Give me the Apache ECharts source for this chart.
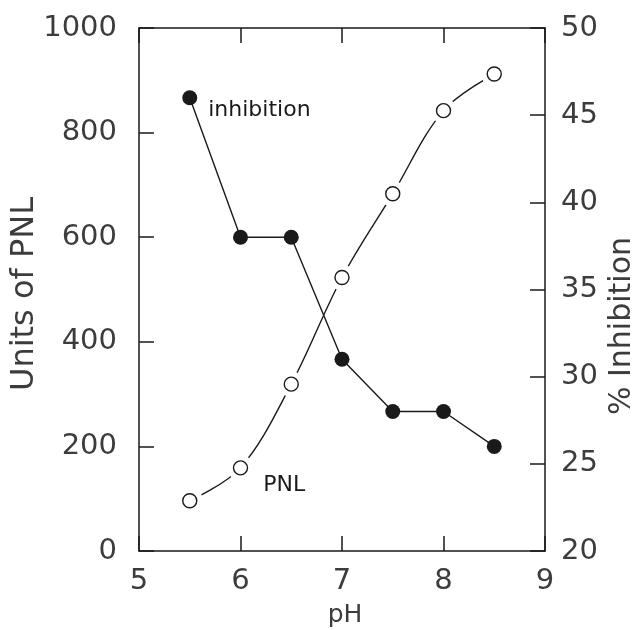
<!DOCTYPE html>
<html>
<head>
<meta charset="utf-8">
<script src="https://cdn.jsdelivr.net/npm/echarts@6/dist/echarts.min.js"></script>
<style>html,body{margin:0;padding:0;background:#fff}#c{width:638px;height:630px}</style>
</head>
<body>
<div id="c"></div>
<script>
const pH = [5.5, 6.0, 6.5, 7.0, 7.5, 8.0, 8.5];
const pnl = [96, 159, 319, 523, 683, 842, 912];
const inhibition = [46.0, 38.0, 38.0, 31.0, 28.0, 28.0, 26.0];
const xTicks = [5, 6, 7, 8, 9];
const leftTicks = [0, 200, 400, 600, 800, 1000];
const rightTicks = [20, 25, 30, 35, 40, 45, 50];

const FONT = 'DejaVu Sans';
const TXT = '#3c3c3c';
const INK = '#1a1a1a';

const pnlData = pH.map((x, i) => [x, pnl[i]]);
const inhData = pH.map((x, i) => [x, inhibition[i]]);

const chart = echarts.init(document.getElementById('c'), null, {renderer: 'canvas'});
const tickStyle = {inside: true, length: 15, lineStyle: {color: INK, width: 1.5}};
const lineSt = {show: true, lineStyle: {color: INK, width: 1.5}};
const fmt = v => String(v);
chart.setOption({
  backgroundColor: '#fff',
  animation: false,
  grid: {left: 139, right: 93, top: 28, bottom: 79, containLabel: false},
  xAxis: [
    {type: 'value', min: xTicks[0], max: xTicks[xTicks.length-1], interval: 1, position: 'bottom',
     axisLine: lineSt, splitLine: {show: false}, axisTick: tickStyle,
     axisLabel: {color: TXT, fontFamily: FONT, fontSize: 29, margin: 16, formatter: fmt}},
    {type: 'value', min: xTicks[0], max: xTicks[xTicks.length-1], interval: 1, position: 'top',
     axisLine: lineSt, splitLine: {show: false}, axisTick: tickStyle,
     axisLabel: {show: false}}
  ],
  yAxis: [
    {type: 'value', min: leftTicks[0], max: leftTicks[leftTicks.length-1], interval: 200, position: 'left',
     axisLine: lineSt, splitLine: {show: false}, axisTick: Object.assign({show: true}, tickStyle),
     axisLabel: {color: TXT, fontFamily: FONT, fontSize: 29, margin: 22, formatter: fmt}},
    {type: 'value', min: rightTicks[0], max: rightTicks[rightTicks.length-1], interval: 5, position: 'right',
     axisLine: lineSt, splitLine: {show: false}, axisTick: Object.assign({show: true}, tickStyle),
     axisLabel: {color: TXT, fontFamily: FONT, fontSize: 29, margin: 16, formatter: fmt}}
  ],
  graphic: [
    {type: 'text', x: 345, y: 615,
     style: {text: 'pH', font: '25px "DejaVu Sans"', fill: TXT, align: 'center', verticalAlign: 'middle'}},
    {type: 'text', rotation: Math.PI/2, x: 25, y: 294,
     style: {text: 'Units of PNL', font: '32px "DejaVu Sans"', fill: TXT, align: 'center', verticalAlign: 'middle'}},
    {type: 'text', rotation: Math.PI/2, x: 622, y: 326,
     style: {text: '% Inhibition', font: '30px "DejaVu Sans"', fill: TXT, align: 'center', verticalAlign: 'middle'}}
  ],
  series: [
    {type: 'line', xAxisIndex: 0, yAxisIndex: 0, data: pnlData, smooth: 0.35,
     symbol: 'circle', symbolSize: 26, showAllSymbol: true,
     itemStyle: {color: '#fff', borderWidth: 0},
     lineStyle: {color: INK, width: 1.4}, z: 1},
    {type: 'scatter', xAxisIndex: 0, yAxisIndex: 0,
     data: pnlData.map((d, i) => i === 1 ? {value: d, label: {show: true, formatter: 'PNL', position: 'right', offset: [10, 17], color: INK, fontFamily: FONT, fontSize: 22}} : d),
     symbol: 'circle', symbolSize: 14,
     itemStyle: {color: '#fff', borderColor: INK, borderWidth: 1.4, opacity: 1}, z: 3},
    {type: 'line', xAxisIndex: 0, yAxisIndex: 1,
     data: inhData.map((d, i) => i === 0 ? {value: d, label: {show: true, formatter: 'inhibition', position: 'right', offset: [6, 13], color: INK, fontFamily: FONT, fontSize: 22}} : d),
     symbol: 'circle', symbolSize: 15, showAllSymbol: true,
     lineStyle: {color: INK, width: 1.4}, itemStyle: {color: INK, borderColor: INK, borderWidth: 0}, z: 4}
  ]
});
</script>
</body>
</html>
